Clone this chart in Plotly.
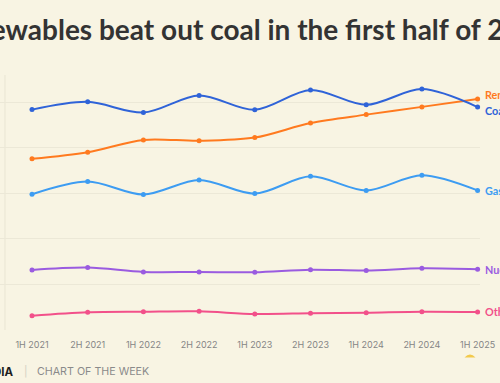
import plotly.graph_objects as go

periods = ["1H 2021", "2H 2021", "1H 2022", "2H 2022", "1H 2023",
           "2H 2023", "1H 2024", "2H 2024", "1H 2025"]
coal = [4840, 5010, 4775, 5150, 4835, 5270, 4945, 5290, 4896]
renewables = [3760, 3905, 4175, 4155, 4225, 4545, 4730, 4900, 5072]
gas = [2980, 3260, 2975, 3295, 2995, 3375, 3065, 3400, 3065]
nuclear = [1320, 1370, 1275, 1275, 1268, 1325, 1305, 1355, 1333]
other = [315, 390, 402, 410, 352, 367, 380, 402, 396]

series = [
    ("Other", other, "#F2508A"),
    ("Nuclear", nuclear, "#9A5BE0"),
    ("Gas", gas, "#3D9CF2"),
    ("Renewables", renewables, "#FF7A1F"),
    ("Coal", coal, "#2F63D8"),
]

BG = "#F8F4E3"
W, H = 500, 383
L, R, T, B = 0, 20, 75, 53
PW = W - L - R
PH = H - T - B

fig = go.Figure()
for name, vals, col in series:
    fig.add_trace(go.Scatter(
        x=periods, y=vals, name=name, mode="lines+markers",
        line=dict(color=col, width=2, shape="spline", smoothing=0.9),
        marker=dict(color=col, size=5),
        hoverinfo="skip", showlegend=False, cliponaxis=False,
    ))
    fig.add_annotation(
        x=len(periods) - 1, y=vals[-1], xref="x", yref="y",
        text="<b>%s</b>" % name, showarrow=False, xanchor="left",
        xshift=5, yshift=(-3 if name == "Coal" else (5 if name == "Renewables" else 0)),
        font=dict(family="Lato", size=10.8, color=col),
    )

def px_x(p):
    return (p - L) / PW

def px_y(p):
    return (T + PH - p) / PH

# left vertical axis line
fig.add_shape(type="line", xref="paper", yref="paper",
              x0=px_x(5), x1=px_x(5), y0=0, y1=1,
              line=dict(color="#E9E5D3", width=1), layer="below")

# title (cropped by the window like the reference)
fig.add_annotation(
    xref="paper", yref="paper", x=px_x(247.5), y=px_y(29),
    text="<b>Renewables beat out coal in the first half of 2025</b>",
    showarrow=False, xanchor="center", yanchor="middle",
    font=dict(family="Lato", size=28, color="#333333"),
)

# footer
fig.add_annotation(
    xref="paper", yref="paper", x=px_x(15.5), y=px_y(371.5),
    text="<b>DIA</b>", showarrow=False, xanchor="right", yanchor="middle",
    font=dict(family="Inter", size=11.5, color="#1E1E1E"),
)
fig.add_annotation(
    xref="paper", yref="paper", x=px_x(26), y=px_y(371.5),
    text="|", showarrow=False, xanchor="center", yanchor="middle",
    font=dict(family="Inter", size=10.5, color="#D4D0C2"),
)
fig.add_annotation(
    xref="paper", yref="paper", x=px_x(35), y=px_y(371.5),
    text="CHART OF THE WEEK", showarrow=False, xanchor="left", yanchor="middle",
    font=dict(family="Inter", size=10.7, color="#8A8A8A"),
)

# small yellow mark under last tick
fig.add_shape(type="path", xref="paper", yref="paper",
              path="M %f %f Q %f %f %f %f Z" % (
                  px_x(464.5), px_y(357.5), px_x(470), px_y(351.5),
                  px_x(475.5), px_y(357.5)),
              fillcolor="#F2C94C", line=dict(width=0))

fig.update_layout(
    width=W, height=H,
    margin=dict(l=L, r=R, t=T, b=B, pad=0),
    paper_bgcolor=BG, plot_bgcolor=BG,
    xaxis=dict(
        type="category", range=[-0.5745, 8.043],
        showgrid=False, zeroline=False, showline=False,
        ticks="", ticklabelstandoff=8,
        tickfont=dict(family="Inter", size=9, color="#858585"),
        fixedrange=True,
    ),
    yaxis=dict(
        range=[0, 5600], tickvals=[0, 1000, 2000, 3000, 4000, 5000],
        showticklabels=False, showgrid=True, gridcolor="#ECE8D7", gridwidth=1,
        zeroline=False, showline=False, ticks="", fixedrange=True,
    ),
)

fig.write_html(
    "out.html",
    config={"displayModeBar": False},
    post_script="document.body.style.margin='0';document.body.style.background='%s';" % BG,
)
